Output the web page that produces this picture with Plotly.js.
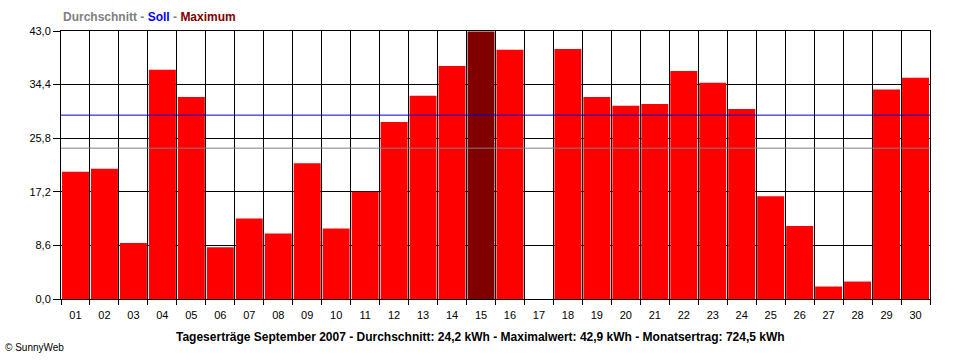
<!DOCTYPE html>
<html>
<head>
<meta charset="utf-8">
<script src="https://cdn.plot.ly/plotly-3.0.1.min.js"></script>
<style>html,body{margin:0;padding:0;background:#fff;}#chart{width:960px;height:360px;}</style>
</head>
<body>
<div id="chart"></div>
<script>
const days = ['01','02','03','04','05','06','07','08','09','10','11','12','13','14','15','16','17','18','19','20','21','22','23','24','25','26','27','28','29','30'];
const dailyYield = [20.4,20.9,9.0,36.8,32.4,8.3,12.9,10.5,21.8,11.3,17.2,28.4,32.6,37.4,42.9,40.0,0,40.1,32.4,31.0,31.3,36.6,34.7,30.5,16.5,11.7,2.0,2.8,33.6,35.5];
const yTicks = [0,8.6,17.2,25.8,34.4,43.0];
const averageValue = 24.2;
const targetValue = 29.5;
const legendParts = ['Durchschnitt','Soll','Maximum'];
const bottomTitle = 'Tageserträge September 2007 - Durchschnitt: 24,2 kWh - Maximalwert: 42,9 kWh - Monatsertrag: 724,5 kWh';
const credit = '© SunnyWeb';

const maxVal = Math.max(...dailyYield);
const colors = dailyYield.map(v => v === maxVal ? '#800000' : '#FF0000');

const font = 'Liberation Sans, Arial, sans-serif';

const trace = {
  type: 'bar',
  x: days,
  y: dailyYield,
  marker: {color: colors, line: {width: 0}},
  hoverinfo: 'x+y'
};

const layout = {
  width: 960, height: 360,
  margin: {l: 61, r: 30, t: 31, b: 61},
  paper_bgcolor: '#fff', plot_bgcolor: '#fff',
  separators: ',.',
  showlegend: false,
  bargap: 0.07,
  font: {family: font, size: 11, color: '#000'},
  xaxis: {
    type: 'category',
    tickson: 'boundaries',
    ticks: 'outside', ticklen: 5, tickcolor: '#000', tickwidth: 1,
    ticklabelstandoff: 6,
    showgrid: true, gridcolor: '#000', gridwidth: 1,
    showline: true, linecolor: '#000', linewidth: 1, mirror: true,
    tickfont: {family: font, size: 11, color: '#000'},
    fixedrange: true
  },
  yaxis: {
    range: [0, 43],
    tickvals: yTicks,
    tickformat: '.1f',
    ticks: 'outside', ticklen: 7, tickcolor: '#000', tickwidth: 1,
    showgrid: true, gridcolor: '#000', gridwidth: 1,
    zeroline: true, zerolinecolor: '#000',
    showline: true, linecolor: '#000', linewidth: 1, mirror: true,
    tickfont: {family: font, size: 11, color: '#000'},
    fixedrange: true
  },
  shapes: [
    {type: 'line', xref: 'paper', yref: 'y', x0: 0, x1: 1, y0: averageValue, y1: averageValue,
     line: {color: '#808080', width: 1}, layer: 'above'},
    {type: 'line', xref: 'paper', yref: 'y', x0: 0, x1: 1, y0: targetValue, y1: targetValue,
     line: {color: '#0000CC', width: 1}, layer: 'above'}
  ],
  annotations: [
    {xref: 'paper', yref: 'paper', x: 0, y: 1 + 14/268, xanchor: 'left', yanchor: 'middle', showarrow: false,
     text: '<b><span style="color:#808080">' + legendParts[0] + '</span><span style="color:#808080"> - </span><span style="color:#0000FF">' + legendParts[1] + '</span><span style="color:#808080"> - </span><span style="color:#800000">' + legendParts[2] + '</span></b>',
     font: {family: font, size: 12}},
    {xref: 'paper', yref: 'paper', x: (480-61)/869, y: -38/268, xanchor: 'center', yanchor: 'middle', showarrow: false,
     text: '<b>' + bottomTitle + '</b>', font: {family: font, size: 12, color: '#000'}},
    {xref: 'paper', yref: 'paper', x: -58/869, y: -48/268, xanchor: 'left', yanchor: 'middle', showarrow: false,
     text: credit, font: {family: font, size: 10, color: '#000'}}
  ]
};

Plotly.newPlot('chart', [trace], layout, {displayModeBar: false, staticPlot: true});
</script>
</body>
</html>
